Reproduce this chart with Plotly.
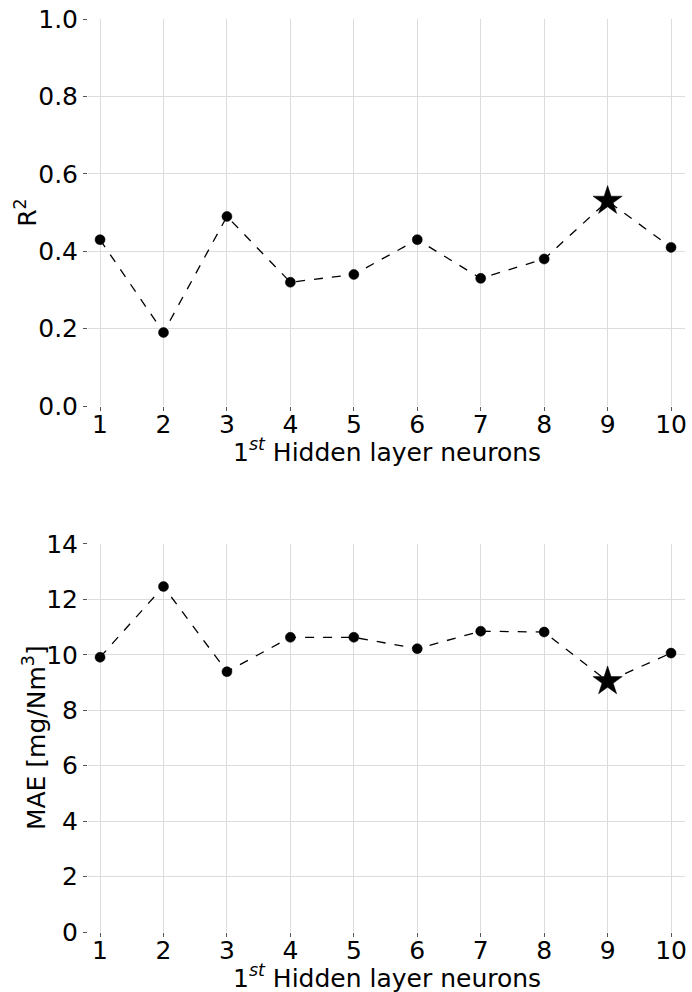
import plotly.graph_objects as go

neurons = [1, 2, 3, 4, 5, 6, 7, 8, 9, 10]
r2 = [0.43, 0.19, 0.49, 0.32, 0.34, 0.43, 0.33, 0.38, 0.53, 0.41]
mae = [9.91, 12.46, 9.39, 10.63, 10.63, 10.22, 10.85, 10.82, 9.04, 10.06]
r2_ticks = [0.0, 0.2, 0.4, 0.6, 0.8, 1.0]
mae_ticks = [0, 2, 4, 6, 8, 10, 12, 14]
xlabel = "1<sup><i>st</i></sup> Hidden layer neurons"
r2_label = "R<sup>2</sup>"
mae_label = "MAE [mg/Nm<sup>3</sup>]"

best_r2 = r2.index(max(r2))
best_mae = mae.index(min(mae))

def sym(best):
    return ["star" if i == best else "circle" for i in range(len(neurons))]

def siz(best):
    return [22 if i == best else 10 for i in range(len(neurons))]

FONT = "DejaVu Sans"
FS = 25
tfont = dict(size=FS, color="black", family=FONT)
fig = go.Figure()
fig.add_trace(go.Scatter(
    x=neurons, y=r2, mode="lines+markers", xaxis="x", yaxis="y",
    line=dict(color="black", width=1.3, dash="dash"),
    marker=dict(color="black", opacity=1, symbol=sym(best_r2), size=siz(best_r2),
                line=dict(width=0.5, color="black")),
    showlegend=False))
fig.add_trace(go.Scatter(
    x=neurons, y=mae, mode="lines+markers", xaxis="x2", yaxis="y2",
    line=dict(color="black", width=1.3, dash="dash"),
    marker=dict(color="black", opacity=1, symbol=sym(best_mae), size=siz(best_mae),
                line=dict(width=0.5, color="black")),
    showlegend=False))

grid = "#dcdcdc"
xcommon = dict(range=[0.81, 10.22], tickvals=neurons, showgrid=True, gridcolor=grid,
               gridwidth=1, zeroline=False, showline=False,
               ticks="outside", ticklen=4, tickcolor="#555555", tickwidth=1,
               ticklabelstandoff=-8,
               tickfont=tfont)
ycommon = dict(showgrid=True, gridcolor=grid, gridwidth=1, zeroline=False, showline=False,
               ticks="outside", ticklen=4, tickcolor="#555555", tickwidth=1,
               tickfont=tfont)

fig.update_layout(
    width=692, height=992,
    margin=dict(l=88, r=5, t=17, b=60),
    paper_bgcolor="white", plot_bgcolor="white",
    font=dict(family=FONT, color="black"),
    xaxis=dict(domain=[0, 1], anchor="y", **xcommon),
    yaxis=dict(domain=[0.576, 1.0], anchor="x", range=[0, 1], tickvals=r2_ticks,
               tickformat=".1f", **ycommon),
    xaxis2=dict(domain=[0, 1], anchor="y2", **xcommon),
    yaxis2=dict(domain=[0.0, 0.4251], anchor="x2", range=[0, 14], tickvals=mae_ticks,
                **ycommon),
    annotations=[
        dict(text=xlabel, xref="paper", yref="paper", x=0.5, y=0.527, xanchor="center",
             yanchor="middle", showarrow=False, font=tfont),
        dict(text=xlabel, xref="paper", yref="paper", x=0.5, y=-0.0492, xanchor="center",
             yanchor="middle", showarrow=False, font=tfont),
        dict(text=r2_label, xref="paper", yref="paper", x=-0.1035, y=0.788, xanchor="center",
             yanchor="middle", textangle=-90, showarrow=False, font=tfont),
        dict(text=mae_label, xref="paper", yref="paper", x=-0.0885, y=0.2126, xanchor="center",
             yanchor="middle", textangle=-90, showarrow=False, font=tfont),
    ],
)
fig.write_html("out.html")
